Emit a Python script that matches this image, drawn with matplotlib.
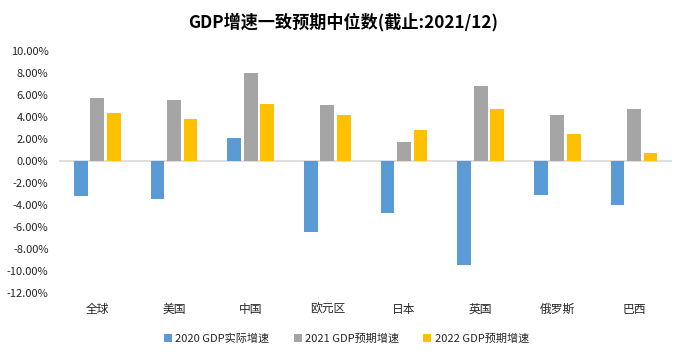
import matplotlib
matplotlib.use("Agg")
import matplotlib.pyplot as plt
import numpy as np
from matplotlib.ticker import FuncFormatter

plt.rcParams['font.family'] = ['Noto Sans CJK SC', 'DejaVu Sans']

categories = ['全球', '美国', '中国', '欧元区', '日本', '英国', '俄罗斯', '巴西']
series_names = ['2020 GDP实际增速', '2021 GDP预期增速', '2022 GDP预期增速']
gdp2020 = [-3.15, -3.42, 2.09, -6.42, -4.70, -9.42, -3.06, -3.97]
gdp2021 = [5.73, 5.55, 8.00, 5.09, 1.73, 6.82, 4.18, 4.73]
gdp2022 = [4.36, 3.82, 5.18, 4.18, 2.82, 4.73, 2.45, 0.73]
colors = ['#5B9BD5', '#A5A5A5', '#FFC000']

fig = plt.figure(figsize=(6.86, 3.57), dpi=100)
ax = fig.add_axes([0.086, 0.179, 0.894, 0.678])

x = np.arange(len(categories))
w = 0.18
step = 0.215
for i, (vals, name, c) in enumerate(zip([gdp2020, gdp2021, gdp2022], series_names, colors)):
    ax.bar(x + (i - 1) * step, vals, width=w, color=c, label=name, zorder=2)

ax.set_xlim(-0.5, len(categories) - 0.5)
ax.set_ylim(-12, 10)
ax.set_yticks(np.arange(-12, 10.01, 2))
ax.yaxis.set_major_formatter(FuncFormatter(lambda v, p: f"{v:.2f}%"))
ax.axhline(0, color='#d9d9d9', lw=1.2, zorder=1)
for s in ax.spines.values():
    s.set_visible(False)
ax.tick_params(axis='y', length=0, labelsize=8, colors='#262626', pad=7.5)
ax.set_xticks(x)
ax.set_xticklabels(categories)
ax.tick_params(axis='x', length=0, labelsize=8.5, colors='#262626', pad=7)

fig.suptitle('GDP增速一致预期中位数(截止:2021/12)', x=0.5, y=0.965,
             fontsize=12.3, fontweight='bold', color='#000000')

leg = fig.legend(loc='center', bbox_to_anchor=(0.505, 0.052), ncol=3, frameon=False,
                 fontsize=8, handlelength=0.7, handleheight=0.7, handletextpad=0.3,
                 columnspacing=2.2, labelcolor='#262626')

fig.savefig('out.png', dpi=100)
